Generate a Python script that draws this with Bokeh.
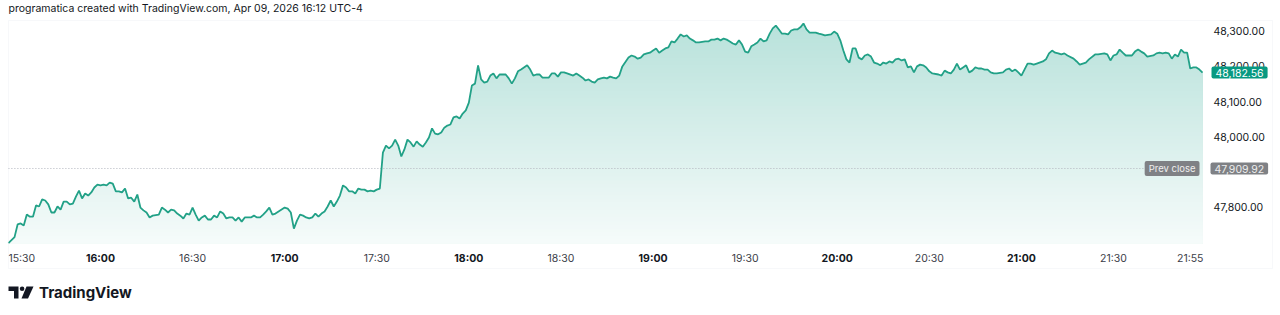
import numpy as np
from bokeh.plotting import figure
from bokeh.models import Range1d, FixedTicker, NumeralTickFormatter, Label, LinearAxis, BoxAnnotation
from bokeh.core.properties import value
from bokeh.embed import file_html
from bokeh.resources import INLINE

# ---------------- data ----------------
header_text = "programatica created with TradingView.com, Apr 09, 2026 16:12 UTC-4"
brand_text = "TradingView"

# minutes after 15:30
minutes = [
    0, 2, 3, 4, 5, 6, 7, 8, 9, 10, 11, 12, 13, 14, 15, 16, 17, 18, 19, 20,
    21, 22, 23, 24, 25, 26, 27, 28, 29, 30, 31, 32, 33, 34, 35, 36, 37, 38, 39, 40,
    41, 42, 43, 44, 45, 46, 47, 49, 50, 51, 52, 53, 54, 55, 56, 57, 58, 59, 60, 61,
    62, 63, 64, 65, 66, 67, 68, 69, 70, 71, 72, 73, 74, 75, 76, 77, 78, 79, 80, 81,
    82, 83, 84, 85, 86, 87, 88, 90, 91, 92, 93, 94, 95, 96, 97, 98, 99, 100, 101, 102,
    103, 104, 105, 106, 107, 108, 109, 110, 111, 112, 113, 114, 115, 116, 117, 118, 119, 120, 121, 122,
    123, 124, 125, 126, 127, 128, 129, 130, 131, 132, 133, 134, 135, 136, 137, 138, 139, 140, 141, 142,
    143, 144, 145, 146, 147, 148, 149, 150, 151, 152, 153, 154, 155, 156, 157, 158, 159, 160, 161, 162,
    163, 164, 165, 166, 167, 169, 170, 171, 172, 173, 174, 175, 176, 177, 178, 179, 180, 181, 182, 184,
    185, 186, 187, 188, 189, 190, 191, 192, 193, 194, 195, 196, 197, 198, 199, 200, 202, 203, 204, 205,
    206, 207, 208, 209, 210, 211, 212, 213, 214, 215, 216, 217, 218, 219, 220, 221, 222, 223, 224, 225,
    227, 228, 229, 230, 231, 232, 233, 234, 235, 236, 237, 238, 239, 240, 241, 242, 243, 244, 245, 246,
    247, 248, 249, 250, 251, 252, 253, 254, 255, 256, 257, 258, 259, 260, 261, 262, 263, 264, 265, 266,
    268, 269, 270, 271, 272, 273, 274, 275, 276, 277, 278, 279, 280, 281, 282, 283, 284, 285, 286, 287,
    288, 289, 290, 291, 292, 293, 294, 295, 296, 297, 298, 299, 300, 301, 303, 304, 305, 306, 307, 308,
    309, 310, 311, 312, 313, 314, 315, 316, 317, 318, 319, 320, 321, 322, 324, 325, 326, 327, 328, 329,
    330, 331, 332, 333, 334, 335, 337, 338, 339, 340, 341, 342, 343, 344, 345, 347, 348, 349, 350, 351,
    352, 354, 355, 357, 358, 359, 360, 361, 362, 363, 364, 365, 366, 367, 368, 369, 370, 371, 373, 374,
    375, 376, 377, 378, 379, 380, 381, 382, 383, 384, 385, 386, 387, 388, 389,
]
prices = [
    47698, 47715, 47751, 47754, 47748, 47779, 47773, 47773, 47805, 47802, 47822, 47819, 47808, 47785, 47785, 47802, 47793, 47816, 47816, 47808,
    47810, 47830, 47847, 47825, 47839, 47833, 47842, 47856, 47864, 47862, 47864, 47862, 47870, 47867, 47845, 47845, 47842, 47853, 47825, 47827,
    47816, 47836, 47799, 47791, 47785, 47771, 47776, 47779, 47799, 47793, 47785, 47793, 47791, 47782, 47776, 47768, 47782, 47779, 47799, 47779,
    47762, 47771, 47776, 47765, 47765, 47776, 47771, 47788, 47782, 47768, 47771, 47771, 47762, 47771, 47759, 47771, 47771, 47771, 47776, 47771,
    47771, 47779, 47788, 47799, 47779, 47782, 47788, 47799, 47796, 47785, 47739, 47762, 47779, 47776, 47771, 47768, 47771, 47782, 47773, 47782,
    47788, 47802, 47819, 47802, 47816, 47833, 47862, 47856, 47845, 47845, 47839, 47853, 47850, 47850, 47845, 47847, 47845, 47850, 47853, 47955,
    47975, 47967, 47975, 47992, 47975, 47944, 47964, 47992, 47984, 47972, 47987, 47978, 47972, 47984, 47998, 48024, 48009, 48007, 48012, 48026,
    48032, 48035, 48055, 48058, 48052, 48066, 48075, 48097, 48146, 48151, 48203, 48163, 48154, 48157, 48174, 48180, 48166, 48177, 48177, 48177,
    48166, 48151, 48166, 48186, 48191, 48203, 48191, 48174, 48177, 48177, 48168, 48168, 48168, 48180, 48180, 48171, 48183, 48183, 48180, 48174,
    48180, 48174, 48168, 48160, 48163, 48157, 48154, 48163, 48166, 48168, 48166, 48171, 48168, 48166, 48174, 48200, 48225, 48231, 48228, 48222,
    48225, 48234, 48237, 48239, 48245, 48251, 48239, 48245, 48251, 48254, 48271, 48268, 48279, 48291, 48285, 48288, 48279, 48274, 48268, 48268,
    48271, 48271, 48276, 48276, 48279, 48274, 48279, 48276, 48271, 48265, 48262, 48274, 48262, 48242, 48239, 48257, 48262, 48268, 48279, 48271,
    48274, 48293, 48308, 48316, 48305, 48293, 48293, 48291, 48302, 48305, 48305, 48311, 48322, 48305, 48296, 48296, 48296, 48293, 48291, 48288,
    48291, 48299, 48293, 48274, 48245, 48220, 48211, 48251, 48251, 48225, 48220, 48231, 48234, 48228, 48211, 48208, 48203, 48211, 48208, 48214,
    48211, 48220, 48222, 48217, 48220, 48197, 48200, 48183, 48200, 48205, 48203, 48197, 48186, 48180, 48177, 48174, 48188, 48183, 48180, 48191,
    48208, 48191, 48197, 48203, 48183, 48188, 48197, 48194, 48194, 48191, 48191, 48183, 48180, 48180, 48183, 48191, 48194, 48186, 48191, 48183,
    48174, 48191, 48208, 48208, 48205, 48208, 48214, 48220, 48237, 48245, 48239, 48237, 48234, 48237, 48231, 48222, 48214, 48205, 48208, 48211,
    48220, 48234, 48234, 48237, 48234, 48217, 48231, 48234, 48248, 48239, 48231, 48231, 48231, 48242, 48248, 48242, 48237, 48228, 48231, 48237,
    48239, 48237, 48239, 48237, 48222, 48234, 48228, 48248, 48239, 48239, 48194, 48197, 48197, 48191, 48182.56,
]
prev_close = 47909.92
last_price = 48182.56

price_ticks = [47800, 48000, 48100, 48200, 48300]
time_tick_minutes = [0, 30, 60, 90, 120, 150, 180, 210, 240, 270, 300, 330, 360, 385]
time_tick_labels = ["15:30", "16:00", "16:30", "17:00", "17:30", "18:00", "18:30",
                    "19:00", "19:30", "20:00", "20:30", "21:00", "21:30", "21:55"]

# ---------------- layout / style ----------------
W, H = 1280, 315
FONT = "Inter"
INK = "#131722"
LINE = "#22a187"
GREEN = "#089981"
GREY = "#7f8185"

# calibration between pixels and data (frame covers the whole canvas)
PX_PER_MIN = 3.0697
X_MIN0 = 7.9            # page x of minute 0
PX_PER_PRICE = 0.352
Y_REF_PX, Y_REF = 30.7, 48300.0


def mx(px):
    return (px - X_MIN0) / PX_PER_MIN


def py(pyv):
    return Y_REF - (pyv - Y_REF_PX) / PX_PER_PRICE


p = figure(width=W, height=H, x_range=Range1d(mx(0), mx(W)), y_range=Range1d(py(H), py(0)),
           output_backend="svg", toolbar_location=None,
           x_axis_location=None, y_axis_location=None,
           min_border=0, min_border_left=0, min_border_right=0, min_border_top=0, min_border_bottom=0)
p.grid.visible = False
p.outline_line_color = None
p.background_fill_color = "white"
p.border_fill_color = "white"

# chart box
p.add_layout(BoxAnnotation(left=mx(8), right=mx(1272), top=py(20), bottom=py(268),
                           fill_alpha=0, line_color="#e6e8ed", line_width=1))

# price scale (axis drawn inside the canvas)
ax = LinearAxis(fixed_location=mx(1205))
ax.ticker = FixedTicker(ticks=price_ticks)
ax.formatter = NumeralTickFormatter(format="0,0.00")
ax.axis_line_color = None
ax.major_tick_line_color = None
ax.minor_tick_line_color = None
ax.major_tick_in = 0
ax.major_tick_out = 0
ax.major_label_standoff = 8
ax.major_label_text_font = FONT
ax.major_label_text_font_size = "10.5px"
ax.major_label_text_color = INK
p.add_layout(ax, "right")

# gradient area: stacked bands, darkest (top) first
t = np.array(minutes, dtype=float)
v = np.array(prices, dtype=float)
base_price = py(243)
top_price = py(20)
n_bands = 60
edges = np.linspace(base_price, top_price, n_bands + 1)
for i in range(n_bands, 0, -1):
    frac = (edges[i] - base_price) / (top_price - base_price)
    a = 0.035 + 0.255 * frac
    r = int(round(255 - a * (255 - 8)))
    g = int(round(255 - a * (255 - 153)))
    b = int(round(255 - a * (255 - 129)))
    p.varea(x=t, y1=np.full_like(v, base_price), y2=np.minimum(v, edges[i]),
            fill_color="#%02x%02x%02x" % (r, g, b), fill_alpha=1.0)

# previous close dotted line
p.segment(x0=[minutes[0]], y0=[prev_close], x1=[mx(1150)], y1=[prev_close],
          line_color="#b2b5be", line_dash="1 2", line_width=1)

# price line
p.line(t, v, line_color=LINE, line_width=1.8)

# time scale labels
ty = py(258)
bold_m = [m for m, s in zip(time_tick_minutes, time_tick_labels) if s.endswith(":00")]
bold_s = [s for s in time_tick_labels if s.endswith(":00")]
norm_m = [m for m, s in zip(time_tick_minutes, time_tick_labels) if not s.endswith(":00")]
norm_s = [s for s in time_tick_labels if not s.endswith(":00")]
p.text(x=norm_m[:1], y=[ty], text=norm_s[:1], text_font=value(FONT),
       text_font_size="10.5px", text_color="#3b3e48", text_align="left", text_baseline="middle")
p.text(x=norm_m[1:], y=[ty] * (len(norm_m) - 1), text=norm_s[1:], text_font=value(FONT),
       text_font_size="10.5px", text_color="#3b3e48", text_align="center", text_baseline="middle")
p.text(x=bold_m, y=[ty] * len(bold_m), text=bold_s, text_font=value(FONT),
       text_font_size="10.5px", text_font_style="bold", text_color=INK,
       text_align="center", text_baseline="middle")

# price-scale badges
pad = dict(left=4, right=4, top=2, bottom=2)
p.add_layout(Label(x=mx(1211), y=last_price, text="{:,.2f}".format(last_price),
                   text_font=FONT, text_font_size="10.5px", text_color="white",
                   text_baseline="middle", text_align="left",
                   background_fill_color=GREEN, padding=pad, border_radius=2))
p.add_layout(Label(x=mx(1210), y=prev_close, text="{:,.2f}".format(prev_close),
                   text_font=FONT, text_font_size="10.5px", text_color="#eeeeee",
                   text_baseline="middle", text_align="left",
                   background_fill_color=GREY, padding=pad, border_radius=2))
p.add_layout(Label(x=mx(1199), y=prev_close, text="Prev close",
                   text_font=FONT, text_font_size="9.5px", text_color="#eeeeee",
                   text_baseline="middle", text_align="right",
                   background_fill_color=GREY, padding=pad, border_radius=2))

# header
p.text(x=[mx(8)], y=[py(8)], text=[header_text], text_font=value(FONT), text_font_size="10.5px",
       text_color=INK, text_baseline="middle", text_align="left")

# footer logo + wordmark
p.patch(x=[mx(q) for q in (8, 18, 18, 13.5, 13.5, 8)],
        y=[py(q) for q in (286, 286, 298, 298, 290.5, 290.5)], color=INK, line_width=0)
p.scatter(x=[mx(21.6)], y=[py(288.3)], size=4.6, marker="circle", color=INK, line_width=0)
p.patch(x=[mx(q) for q in (26, 33, 27.5, 21)],
        y=[py(q) for q in (286, 286, 298, 298)], color=INK, line_width=0)
p.text(x=[mx(38.5)], y=[py(292)], text=[brand_text], text_font=value(FONT), text_font_size="15px",
       text_font_style="bold", text_color=INK, text_baseline="middle", text_align="left")

open("out.html", "w").write(file_html(p, INLINE))
